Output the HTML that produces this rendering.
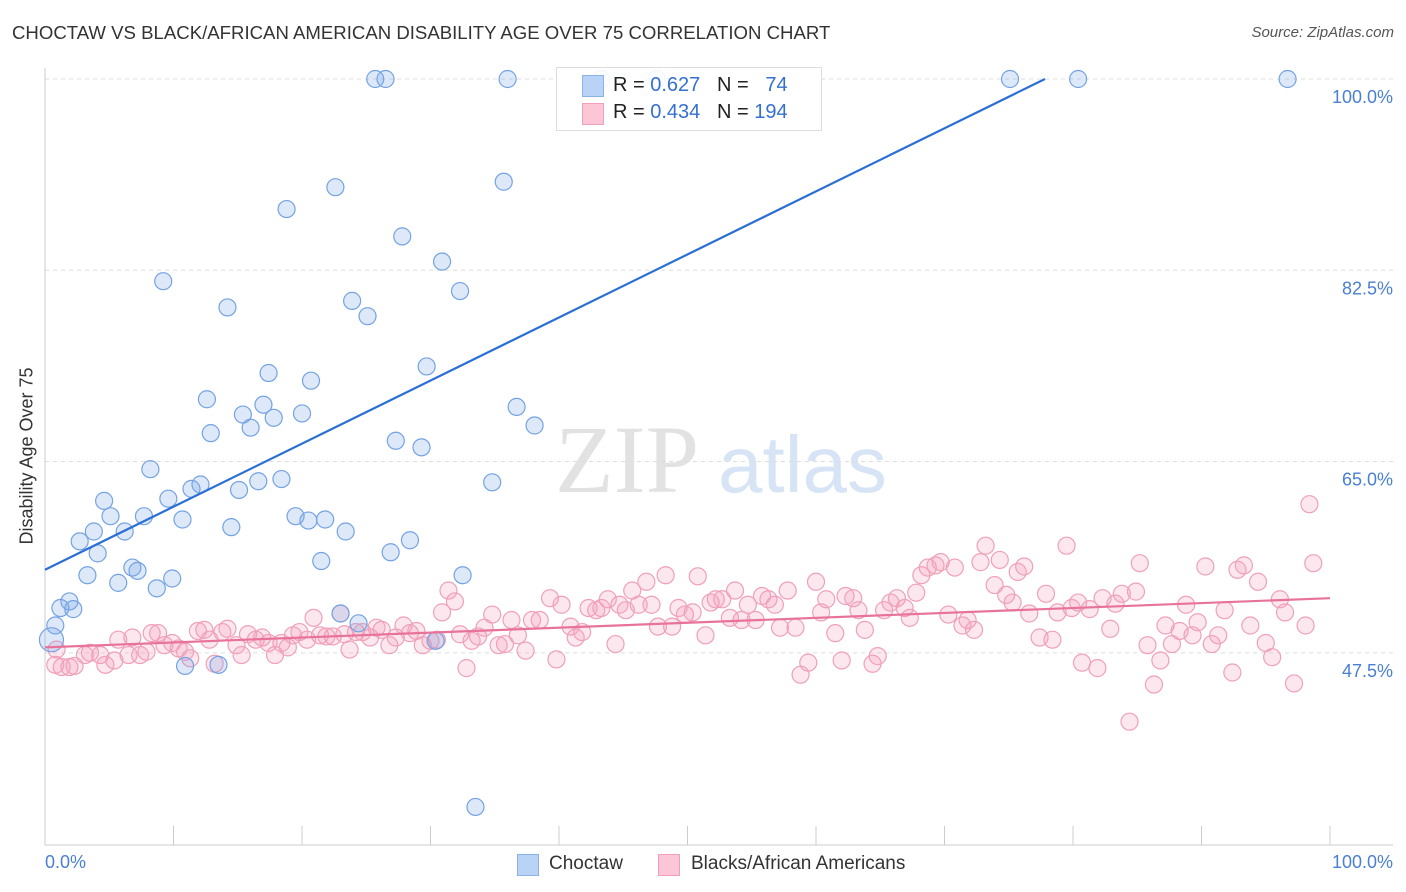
<!DOCTYPE html>
<html><head><meta charset="utf-8"><style>
body{margin:0;background:#fff;font-family:"Liberation Sans",sans-serif}
#wrap{position:relative;width:1406px;height:892px;overflow:hidden}
.t{position:absolute;white-space:nowrap}
</style></head><body>
<div id="wrap">
<div class="t" style="left:12px;top:22px;font-size:18.6px;color:#333">CHOCTAW VS BLACK/AFRICAN AMERICAN DISABILITY AGE OVER 75 CORRELATION CHART</div>
<div class="t" style="right:12px;top:24px;font-size:15px;color:#555;font-style:italic">Source: ZipAtlas.com</div>
<div class="t" style="left:27px;top:456px;font-size:18px;color:#333;transform:translate(-50%,-50%) rotate(-90deg)">Disability Age Over 75</div>
<svg id="plot" width="1406" height="892" style="position:absolute;left:0;top:0"></svg>
<div class="t" style="left:556px;top:67px;width:264px;height:62px;border:1px solid #ddd;background:rgba(255,255,255,0.9)"></div>
<div class="t" style="left:582px;top:75px;width:20px;height:20px;background:#b8d3f5;border:1px solid #8ab2e8"></div>
<div class="t" style="left:582px;top:103px;width:20px;height:20px;background:#fcc6d6;border:1px solid #f0a0b8"></div>
<div class="t" style="left:613px;top:74px;font-size:20px;color:#222">R = <span style="color:#3570d0">0.627</span>&nbsp;&nbsp;&nbsp;N = &nbsp;&nbsp;<span style="color:#3570d0">74</span></div>
<div class="t" style="left:613px;top:101px;font-size:20px;color:#222">R = <span style="color:#3570d0">0.434</span>&nbsp;&nbsp;&nbsp;N = <span style="color:#3570d0">194</span></div>
<div class="t" style="left:45px;top:852px;font-size:18px;color:#4a7fd4">0.0%</div>
<div class="t" style="right:13px;top:852px;font-size:18px;color:#4a7fd4">100.0%</div>
<div class="t" style="left:517px;top:854px;width:20px;height:20px;background:#b8d3f5;border:1px solid #8ab2e8"></div>
<div class="t" style="left:549px;top:853px;font-size:19px;color:#333">Choctaw</div>
<div class="t" style="left:658px;top:854px;width:20px;height:20px;background:#fcc6d6;border:1px solid #f0a0b8"></div>
<div class="t" style="left:691px;top:853px;font-size:19px;color:#333">Blacks/African Americans</div>
</div>
<script>
const yTicks=[47.5,65.0,82.5,100.0];
const yTickLabels=["47.5%","65.0%","82.5%","100.0%"];
const blueX=[25.7,26.5,36.0,43.3,47.6,75.1,80.4,96.7,35.7,22.6,18.8,27.8,30.9,9.2,32.3,23.9,14.2,25.1,29.7,17.4,20.7,12.6,17.0,15.4,20.0,17.8,36.7,16.0,38.1,12.9,27.3,29.3,8.2,12.1,11.4,15.1,16.6,18.4,34.8,4.6,9.6,5.1,7.7,10.7,19.5,20.5,21.8,3.8,6.2,14.5,23.4,2.7,28.4,4.1,26.9,21.5,6.8,7.2,3.3,9.9,32.5,5.7,8.7,1.9,1.2,2.2,0.8,0.5,10.9,13.5,23.0,24.4,30.4,33.5];
const blueY=[100,100,100,100,100,100,100,100,90.6,90.1,88.1,85.6,83.3,81.5,80.6,79.7,79.1,78.3,73.7,73.1,72.4,70.7,70.2,69.3,69.4,69.0,70.0,68.1,68.3,67.6,66.9,66.3,64.3,62.9,62.5,62.4,63.2,63.4,63.1,61.4,61.6,60.0,60.0,59.7,60.0,59.6,59.7,58.6,58.6,59.0,58.6,57.7,57.8,56.6,56.7,55.9,55.3,55.0,54.6,54.3,54.6,53.9,53.4,52.2,51.6,51.5,50.0,48.7,46.3,46.4,51.1,50.2,48.6,33.4];
const pinkX=[0.8,1.3,1.9,2.3,0.9,3.1,3.5,4.3,4.7,5.4,5.7,6.5,6.8,7.4,7.9,8.3,8.8,9.3,9.9,10.4,10.9,11.3,11.9,12.4,12.8,13.2,13.8,14.2,14.9,15.3,15.8,16.4,16.9,17.4,17.9,18.4,18.9,19.3,19.8,20.4,20.9,21.4,21.9,22.4,23.0,23.3,23.7,24.2,24.7,25.3,25.8,26.2,26.8,27.3,27.9,28.4,28.9,29.4,30.0,30.5,30.9,31.4,31.9,32.3,32.8,33.2,33.7,34.2,34.8,35.3,35.8,36.3,36.8,37.4,37.9,38.5,39.3,39.8,40.2,40.9,41.3,41.8,42.3,42.9,43.3,43.8,44.4,44.7,45.2,45.7,46.2,46.8,47.2,47.7,48.3,48.8,49.3,49.8,50.4,50.8,51.4,51.8,52.2,52.7,53.3,53.7,54.2,54.7,55.3,55.8,56.3,56.8,57.2,57.8,58.4,58.8,59.4,60.0,60.4,60.8,61.5,62.0,62.3,62.9,63.3,63.8,64.4,64.8,65.3,65.8,66.3,66.9,67.3,67.8,68.2,68.7,69.3,69.7,70.3,70.8,71.4,71.8,72.3,72.8,73.2,73.9,74.3,74.8,75.3,75.7,76.2,76.6,77.4,77.9,78.4,78.8,79.5,79.9,80.4,80.7,81.3,81.9,82.3,82.9,83.3,83.8,84.4,84.9,85.2,85.8,86.3,86.8,87.2,87.7,88.3,88.8,89.3,89.7,90.3,90.8,91.3,91.8,92.4,92.8,93.3,93.8,94.4,95.0,95.5,96.1,96.5,97.2,98.1,98.4,98.7];
const pinkY=[46.4,46.2,46.2,46.3,47.8,47.3,47.5,47.3,46.4,46.8,48.7,47.3,48.9,47.3,47.6,49.3,49.3,48.2,48.4,47.9,47.6,47.0,49.5,49.6,48.7,46.5,49.4,49.7,48.2,47.3,49.2,48.7,48.9,48.4,47.3,48.4,48.0,49.1,49.4,48.7,50.7,49.1,49.0,49.0,51.1,49.2,47.8,49.4,49.4,48.9,49.8,49.6,48.2,48.9,50.0,49.3,49.5,48.2,48.6,48.7,51.2,53.2,52.2,49.2,46.1,48.6,49.0,49.8,51.0,48.2,48.3,50.5,49.1,47.7,50.5,50.5,52.5,46.9,51.9,49.9,48.9,49.4,51.6,51.4,51.6,52.4,48.3,51.9,51.4,53.2,51.9,54.0,51.9,49.9,54.6,49.9,51.6,51.0,51.2,54.5,49.1,52.1,52.4,52.4,50.7,53.2,50.5,51.9,50.5,52.7,52.4,51.9,49.8,53.2,49.8,45.5,46.6,54.0,51.2,52.4,49.3,46.8,52.7,52.5,51.4,49.6,46.5,47.2,51.4,52.1,52.5,51.6,50.7,53.0,54.6,55.3,55.5,55.8,51.0,55.3,50.0,50.5,49.6,55.8,57.3,53.7,56.0,52.8,52.1,54.9,55.4,51.1,48.9,52.9,48.7,51.2,57.3,51.6,52.1,46.6,51.5,46.1,52.5,49.7,52.0,52.9,41.2,53.1,55.7,48.2,44.6,46.8,50.0,48.3,49.5,51.9,49.1,50.3,55.4,48.3,49.1,51.4,45.7,55.1,55.5,50.0,54.0,48.4,47.1,52.4,51.2,44.7,50.0,61.1,55.7];
const blueTrend=[55.1,112.8];
const pinkTrend=[48.0,52.5];
const NS="http://www.w3.org/2000/svg";
const svg=document.getElementById('plot');
const X0=45,X1=1330,YTOP=79,PX=10.93;
const sx=v=>X0+(X1-X0)*v/100;
const sy=v=>YTOP+(100-v)*PX;
function mk(t,a){const e=document.createElementNS(NS,t);for(const k in a)e.setAttribute(k,a[k]);svg.appendChild(e);return e;}
let w=mk('text',{x:555,y:492,'font-size':96,'font-family':'Liberation Serif,serif',fill:'#e2e2e2'});w.textContent='ZIP';


let w2=mk('text',{x:718,y:492,'font-size':80,'font-family':'Liberation Sans,sans-serif',fill:'#d6e4f6'});w2.textContent='atlas';


yTicks.forEach((v,i)=>{
 const g=mk('line',{x1:X0,x2:1393,y1:sy(v),y2:sy(v),stroke:'#ddd','stroke-dasharray':'4,4'});
 
 
 const t=mk('text',{x:1393,y:sy(v)+24,'text-anchor':'end','font-size':18,fill:'#4a7fd4','font-family':'Liberation Sans,sans-serif'});
 t.textContent=yTickLabels[i];
 
 
});
let ax=mk('line',{x1:X0,x2:X0,y1:68,y2:845,stroke:'#ccc'});


let bx=mk('line',{x1:X0,x2:1393,y1:845,y2:845,stroke:'#ccc'});


for(let i=0;i<=10;i++){const tk=mk('line',{x1:sx(i*10),x2:sx(i*10),y1:826,y2:845,stroke:'#ccc'});
 
 }
pinkX.forEach((x,i)=>{const c=mk('circle',{cx:sx(x),cy:sy(pinkY[i]),r:8.5,fill:'rgba(245,160,188,0.25)',stroke:'#f0a0b8','stroke-width':1.2});
 
 });
blueX.forEach((x,i)=>{const c=mk('circle',{cx:sx(x),cy:sy(blueY[i]),r:(i==blueX.length-7?12:8.5),fill:'rgba(120,165,230,0.25)',stroke:'#74a3e3','stroke-width':1.2});
 
 });
const bx1=(100-blueTrend[0])/(blueTrend[1]-blueTrend[0])*100;
let bl=mk('line',{x1:sx(0),y1:sy(blueTrend[0]),x2:sx(bx1),y2:sy(100),stroke:'#2a6fd6','stroke-width':2.2});


let pl=mk('line',{x1:sx(0),y1:sy(pinkTrend[0]),x2:sx(100),y2:sy(pinkTrend[1]),stroke:'#e8739a','stroke-width':2.2});


</script>
</body></html>
